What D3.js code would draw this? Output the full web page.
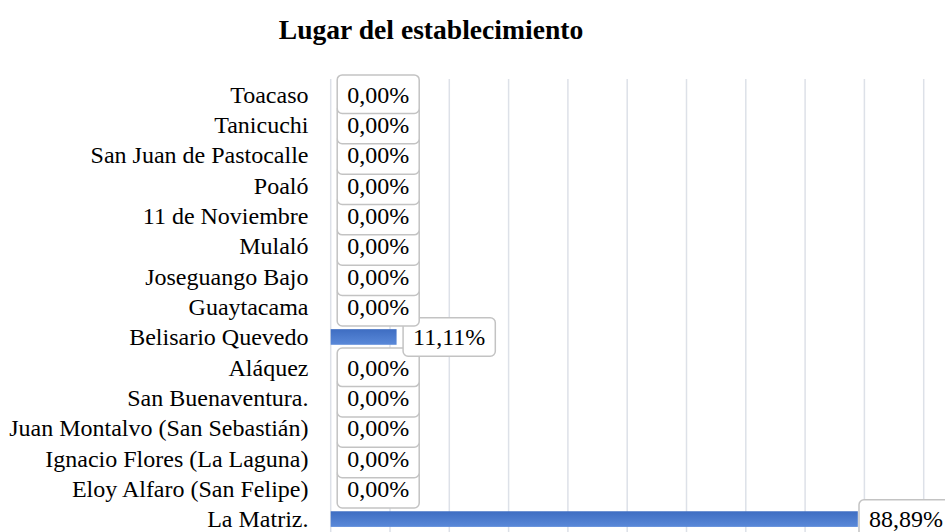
<!DOCTYPE html>
<html>
<head>
<meta charset="utf-8">
<script src="https://cdn.jsdelivr.net/npm/d3@7"></script>
<style>
  body { margin: 0; background: #fff; }
  text { font-family: 'Liberation Serif', 'Times New Roman', 'DejaVu Serif', serif; }
</style>
</head>
<body>
<div id="chart"></div>
<script>
(function() {
  var categories = ['Toacaso', 'Tanicuchi', 'San Juan de Pastocalle', 'Poaló', '11 de Noviembre',
    'Mulaló', 'Joseguango Bajo', 'Guaytacama', 'Belisario Quevedo', 'Aláquez', 'San Buenaventura.',
    'Juan Montalvo (San Sebastián)', 'Ignacio Flores (La Laguna)', 'Eloy Alfaro (San Felipe)', 'La Matriz.'];
  var values = [0, 0, 0, 0, 0, 0, 0, 0, 11.11, 0, 0, 0, 0, 0, 88.89];
  var ticks = [0, 10, 20, 30, 40, 50, 60, 70, 80, 90, 100];

  var serif = "'Liberation Serif', 'Times New Roman', 'DejaVu Serif', serif";
  var width = 945, height = 532;
  var left = 330.7, top = 79, step = 30.35;

  var svg = d3.select('#chart')
    .append('svg')
    .attr('width', width)
    .attr('height', height);

  var x = d3.scaleLinear()
    .domain([0, 100])
    .range([left, left + 593]);

  var y = d3.scaleBand()
    .domain(categories)
    .range([top, top + step * categories.length])
    .paddingInner(0.485)
    .paddingOuter(0.2425);

  var defs = svg.append('defs');
  var grad = defs.append('linearGradient').attr('id', 'bar-grad')
    .attr('x1', '0%').attr('y1', '0%').attr('x2', '0%').attr('y2', '100%');
  grad.append('stop').attr('offset', '0%').attr('stop-color', '#3e6dc2');
  grad.append('stop').attr('offset', '100%').attr('stop-color', '#5a89d9');

  svg.append('text')
    .attr('x', 431)
    .attr('y', 38.5)
    .attr('text-anchor', 'middle')
    .attr('font-family', serif)
    .style('font-size', '27.6px')
    .style('font-weight', 'bold')
    .text('Lugar del establecimiento');

  // gridlines, incl. the 0 line
  svg.selectAll('.grid')
    .data(ticks)
    .enter().append('line')
    .attr('class', 'grid')
    .attr('x1', function(d) { return x(d) })
    .attr('x2', function(d) { return x(d) })
    .attr('y1', top)
    .attr('y2', top + step * categories.length)
    .attr('stroke', '#dde1e8')
    .attr('stroke-width', 1.5);

  svg.selectAll('.cat-label')
    .data(categories)
    .enter().append('text')
    .attr('class', 'cat-label')
    .attr('x', 308.5)
    .attr('y', function(d) { return y(d) + y.bandwidth() / 2 })
    .attr('dy', '0.35em')
    .attr('text-anchor', 'end')
    .attr('font-family', serif)
    .style('font-size', '24px')
    .attr('fill', '#000')
    .text(function(d) { return d });

  var data = categories.map(function(c, i) { return { name: c, value: values[i] } });

  svg.selectAll('.bar')
    .data(data.filter(function(d) { return d.value > 0 }))
    .enter().append('rect')
    .attr('class', 'bar')
    .attr('x', x(0))
    .attr('y', function(d) { return y(d.name) })
    .attr('width', function(d) { return x(d.value) - x(0) })
    .attr('height', y.bandwidth())
    .attr('fill', 'url(#bar-grad)');

  // labels drawn bottom row first so upper boxes sit on top
  var labels = svg.selectAll('.val-label')
    .data(data.slice().reverse())
    .enter().append('g')
    .attr('class', 'val-label');

  labels.each(function(d) {
    var g = d3.select(this);
    var cy = y(d.name) + y.bandwidth() / 2;
    var t = g.append('text')
      .attr('text-anchor', 'middle')
      .attr('font-family', serif)
      .style('font-size', '24px')
      .attr('fill', '#000')
      .text(d.value.toFixed(2).replace('.', ',') + '%');
    var bw = t.node().getComputedTextLength() + 20;
    var bh = 38.5;
    var bx = Math.min(x(d.value) + 6.5, width - bw + 8);
    g.insert('rect', 'text')
      .attr('x', bx)
      .attr('y', cy - bh / 2)
      .attr('width', bw)
      .attr('height', bh)
      .attr('rx', 5)
      .attr('fill', '#fff')
      .attr('stroke', '#c3c3c3')
      .attr('stroke-width', 1.5);
    t.attr('x', bx + bw / 2)
      .attr('y', cy)
      .attr('dy', '0.35em');
  });
})();
</script>
</body>
</html>
